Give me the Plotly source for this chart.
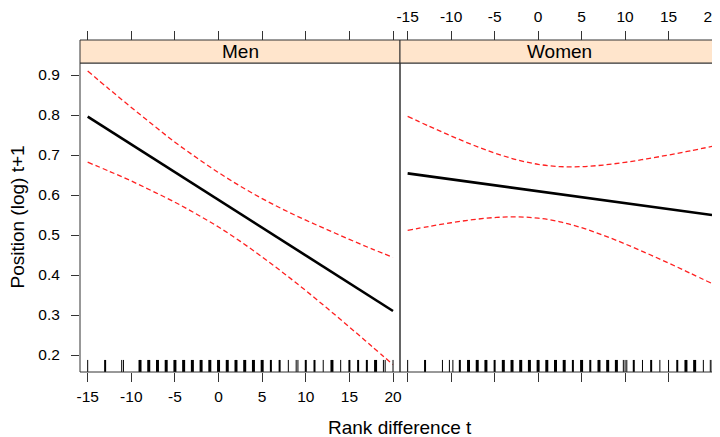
import plotly.graph_objects as go

# ---------------- data ----------------
x_grid = [-15, -12.5, -10, -7.5, -5, -2.5, 0, 2.5, 5, 7.5, 10, 12.5, 15, 17.5, 20]
fit_x = [-15, 20]

men_fit = [0.796, 0.310]
men_upper = [0.910, 0.864, 0.819, 0.775, 0.732, 0.693, 0.656, 0.622, 0.591, 0.563,
             0.537, 0.513, 0.489, 0.466, 0.444]
men_lower = [0.682, 0.659, 0.635, 0.609, 0.582, 0.552, 0.520, 0.484, 0.445, 0.404,
             0.361, 0.316, 0.270, 0.223, 0.176]

women_fit = [0.654, 0.550]
women_upper = [0.7965, 0.7716, 0.7476, 0.7251, 0.7050, 0.6884, 0.6767, 0.6710, 0.6709,
               0.6749, 0.6817, 0.6903, 0.7000, 0.7104, 0.7214]
women_lower = [0.5115, 0.5216, 0.5306, 0.5383, 0.5436, 0.5454, 0.5421, 0.5330, 0.5183,
               0.4993, 0.4777, 0.4543, 0.4298, 0.4044, 0.3786]

# rug: observed rank differences and relative density (1 = few, 3 = many)
men_rug_x = [-15, -13, -11.1, -10.9, -9, -8, -7, -6, -5, -4, -3, -2, -1, 0, 1, 2, 3, 4, 5,
             6, 7, 8, 8.9, 9.1, 10, 11, 12, 13, 14, 15, 16, 17, 18, 18.9, 19.1, 20]
men_rug_n = [1, 2, 1, 1, 3, 3, 3, 3, 3, 3, 3, 3, 3, 3, 3, 3, 3, 3, 3,
             2, 2, 1, 1, 1, 2, 2, 1, 3, 1, 2, 2, 2, 3, 1, 1, 1]
women_rug_x = [-15, -13, -11, -10.2, -9.8, -9, -8, -7, -6, -5, -4, -3, -2, -1, 0, 1, 2, 3,
               4, 5, 6, 7, 8, 9, 9.8, 10, 10.2, 11, 12, 13, 14, 15, 16, 17, 18, 19, 19.8, 20]
women_rug_n = [1, 2, 1, 1, 1, 2, 3, 3, 3, 2, 3, 3, 3, 3, 3, 3, 3, 3,
               2, 3, 2, 3, 3, 3, 1, 1, 1, 2, 1, 2, 1, 1, 2, 3, 3, 1, 1, 1]

panels = ["Men", "Women"]
x_ticks = [-15, -10, -5, 0, 5, 10, 15, 20]
x_tick_labels = ["-15", "-10", "-5", "0", "5", "10", "15", "20"]
y_ticks = [0.2, 0.3, 0.4, 0.5, 0.6, 0.7, 0.8, 0.9]
y_tick_labels = ["0.2", "0.3", "0.4", "0.5", "0.6", "0.7", "0.8", "0.9"]

# ---------------- figure ----------------
FONT = "Liberation Sans, Arial, sans-serif"
XR = [-15.88, 20.8]
YR = [0.1575, 0.93]
YTOP = 309 / 332  # panel top in paper coords (strip above)
SPLIT = 320 / 639
AX = "#333333"
RED = "#FF2020"

fig = go.Figure()

for i, (upper, lower, fit) in enumerate([(men_upper, men_lower, men_fit),
                                          (women_upper, women_lower, women_fit)]):
    xa = "x" if i == 0 else "x2"
    xa_top = "x3" if i == 0 else "x4"
    ya = "y" if i == 0 else "y2"
    for band in (upper, lower):
        fig.add_trace(go.Scatter(x=x_grid, y=band, mode="lines", xaxis=xa, yaxis=ya,
                                 line=dict(color=RED, width=1.3, dash="5px,3px", shape="spline"),
                                 showlegend=False, hoverinfo="skip"))
    fig.add_trace(go.Scatter(x=fit_x, y=fit, mode="lines", xaxis=xa_top, yaxis=ya,
                             line=dict(color="black", width=2.6),
                             showlegend=False, hoverinfo="skip"))

shapes = []
# rug
for xa, ya, rx, rn in [("x", "y", men_rug_x, men_rug_n), ("x2", "y2", women_rug_x, women_rug_n)]:
    for xv, nv in zip(rx, rn):
        w = {1: 1.0, 2: 2.0, 3: 3.0}[nv]
        shapes.append(dict(type="line", xref=xa, yref=ya + " domain", x0=xv, x1=xv,
                           y0=0, y1=0.039, line=dict(color="black", width=w), layer="above"))
# panel borders & strips
for xa, ya in [("x", "y"), ("x2", "y2")]:
    shapes.append(dict(type="rect", xref=xa + " domain", yref=ya + " domain",
                       x0=0, x1=1, y0=0, y1=1, line=dict(color=AX, width=1)))
    shapes.append(dict(type="rect", xref=xa + " domain", yref="paper",
                       x0=0, x1=1, y0=YTOP, y1=1, fillcolor="#FFE5CC",
                       line=dict(color=AX, width=1)))

annotations = []
for j, name in enumerate(panels):
    annotations.append(dict(text=name, xref="paper", yref="paper",
                            x=(SPLIT / 2) if j == 0 else (SPLIT + (1 - SPLIT) / 2),
                            y=(YTOP + 1) / 2, xanchor="center", yanchor="middle",
                            showarrow=False, font=dict(family=FONT, size=19, color="black")))
annotations.append(dict(text="Rank difference t", xref="paper", yref="paper",
                        x=(400 - 80) / 639, y=(372 - 427.5) / 332, xanchor="center",
                        yanchor="middle", showarrow=False,
                        font=dict(family=FONT, size=19, color="black")))
annotations.append(dict(text="Position (log) t+1", xref="paper", yref="paper",
                        x=(17 - 80) / 639, y=YTOP / 2, xanchor="center", yanchor="middle",
                        textangle=-90, showarrow=False,
                        font=dict(family=FONT, size=19, color="black")))

tickfont = dict(family=FONT, size=15.5, color="black")
common_x = dict(range=XR, tickvals=x_ticks, ticktext=x_tick_labels, ticks="outside",
                ticklen=9, tickwidth=1, tickcolor=AX, showgrid=False, zeroline=False,
                showline=False, tickfont=tickfont, automargin=False,
                ticklabeloverflow="allow")

# page body has an 8px margin: figure is 712x429 so it ends at the window edge
fig.update_layout(
    width=712, height=429,
    margin=dict(l=72, r=1, t=32, b=65, autoexpand=False),
    paper_bgcolor="white", plot_bgcolor="white",
    showlegend=False,
    shapes=shapes, annotations=annotations,
    xaxis=dict(domain=[0, SPLIT], anchor="y", showticklabels=True,
               ticklabelstandoff=1, **common_x),
    xaxis2=dict(domain=[SPLIT, 1], anchor="y2", showticklabels=False, **common_x),
    xaxis3=dict(overlaying="x", side="top", anchor="free", position=1,
                showticklabels=False, **common_x),
    xaxis4=dict(overlaying="x2", side="top", anchor="free", position=1,
                showticklabels=True, ticklabelstandoff=3, **common_x),
    yaxis=dict(domain=[0, YTOP], anchor="x", range=YR, tickvals=y_ticks,
               ticktext=y_tick_labels,
               ticks="outside", ticklen=8, tickwidth=1, tickcolor=AX,
               showgrid=False, zeroline=False, showline=False, tickfont=tickfont,
               ticklabelstandoff=8, automargin=False),
    yaxis2=dict(domain=[0, YTOP], anchor="x2", range=YR, matches="y",
                showticklabels=False, ticks="", showgrid=False, zeroline=False,
                showline=False, automargin=False),
)

fig.write_html("out.html")
